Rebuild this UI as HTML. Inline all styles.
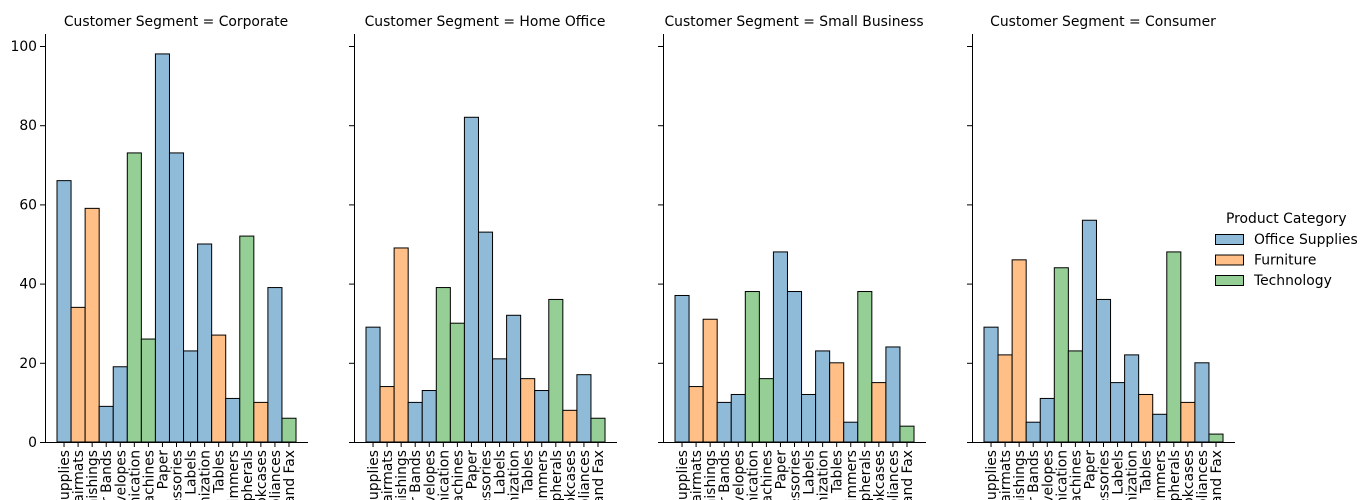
<!DOCTYPE html>
<html><head><meta charset="utf-8"><style>
html,body{margin:0;background:#fff;font-family:"DejaVu Sans","Liberation Sans",sans-serif;overflow:hidden;width:1370px;height:500px}
svg{display:block}
</style></head><body>
<svg id="c" width="1370" height="500"></svg>
<script>
const categories=["Pens & Art Supplies","Chairs & Chairmats","Office Furnishings","Rubber Bands","Envelopes","Telephones and Communication","Office Machines","Paper","Binders and Binder Accessories","Labels","Storage & Organization","Tables","Scissors, Rulers and Trimmers","Computer Peripherals","Bookcases","Appliances","Copiers and Fax"];
const productCategory=["Office Supplies","Furniture","Furniture","Office Supplies","Office Supplies","Technology","Technology","Office Supplies","Office Supplies","Office Supplies","Office Supplies","Furniture","Office Supplies","Technology","Furniture","Office Supplies","Technology"];
const segments=["Corporate","Home Office","Small Business","Consumer"];
const corporate=[66,34,59,9,19,73,26,98,73,23,50,27,11,52,10,39,6];
const homeOffice=[29,14,49,10,13,39,30,82,53,21,32,16,13,36,8,17,6];
const smallBusiness=[37,14,31,10,12,38,16,48,38,12,23,20,5,38,15,24,4];
const consumer=[29,22,46,5,11,44,23,56,36,15,22,12,7,48,10,20,2];
const yTicks=[0,20,40,60,80,100];
const legendItems=["Office Supplies","Furniture","Technology"];
const series=[corporate,homeOffice,smallBusiness,consumer];
const colors={"Office Supplies":"#8fbbd9","Furniture":"#ffbf86","Technology":"#95cf95"};
const FS=13.9;
const NS="http://www.w3.org/2000/svg";
const svg=document.getElementById('c');
function mk(t,a,p){const e=document.createElementNS(NS,t);for(const k in a)e.setAttribute(k,a[k]);(p||svg).appendChild(e);return e;}
const y0=442,yScale=3.96;
function y(v){return y0-v*yScale;}
const axX0=[45,354,663,972],bw=14.06,barStart=12;
function x(p,i){return axX0[p]+barStart+i*bw;}
segments.forEach((s,p)=>{
  const g=mk('g',{});
  
  
  const t=mk('text',{x:axX0[p]+131,y:26,'text-anchor':'middle','font-size':FS,fill:'#000'},g);
  t.textContent='Customer Segment = '+s;
  
  
  series[p].forEach((v,i)=>{
    const r=mk('rect',{x:x(p,i),y:y(v),width:bw,height:v*yScale,fill:colors[productCategory[i]],stroke:'#000','stroke-width':1},g);
    
    
  });
  const ya=mk('line',{x1:axX0[p]+0.5,x2:axX0[p]+0.5,y1:34,y2:y0,stroke:'#000','stroke-width':1},g);
  
  
  const xa=mk('line',{x1:axX0[p],x2:axX0[p]+263,y1:y0+0.5,y2:y0+0.5,stroke:'#000','stroke-width':1},g);
  
  
  yTicks.forEach(v=>{
    mk('line',{x1:axX0[p]-5,x2:axX0[p],y1:y(v)+0.5,y2:y(v)+0.5,stroke:'#000'},g);
    if(p===0){const tl=mk('text',{x:axX0[p]-8,y:y(v)+5,'text-anchor':'end','font-size':FS,fill:'#000'},g);tl.textContent=v;
      
      }
  });
  categories.forEach((c,i)=>{
    const cx=x(p,i)+bw/2;
    mk('line',{x1:cx,x2:cx,y1:y0,y2:y0+5,stroke:'#000'},g);
    const tl=mk('text',{x:0,y:0,'text-anchor':'end','font-size':FS,fill:'#000',transform:`translate(${cx+5},${y0+8}) rotate(-90)`},g);
    tl.textContent=c;
    
    
  });
});
const lg=mk('g',{});


const lt=mk('text',{x:1226,y:223,'font-size':FS,fill:'#000'},lg);
lt.textContent='Product Category';


legendItems.forEach((n,i)=>{
  const yy=234+i*20.5;
  const r=mk('rect',{x:1215.5,y:yy+0.5,width:28,height:10,fill:colors[n],stroke:'#000'},lg);
  
  
  const t=mk('text',{x:1254,y:yy+10,'font-size':FS,fill:'#000'},lg);
  t.textContent=n;
  
  
});
</script>
</body></html>
